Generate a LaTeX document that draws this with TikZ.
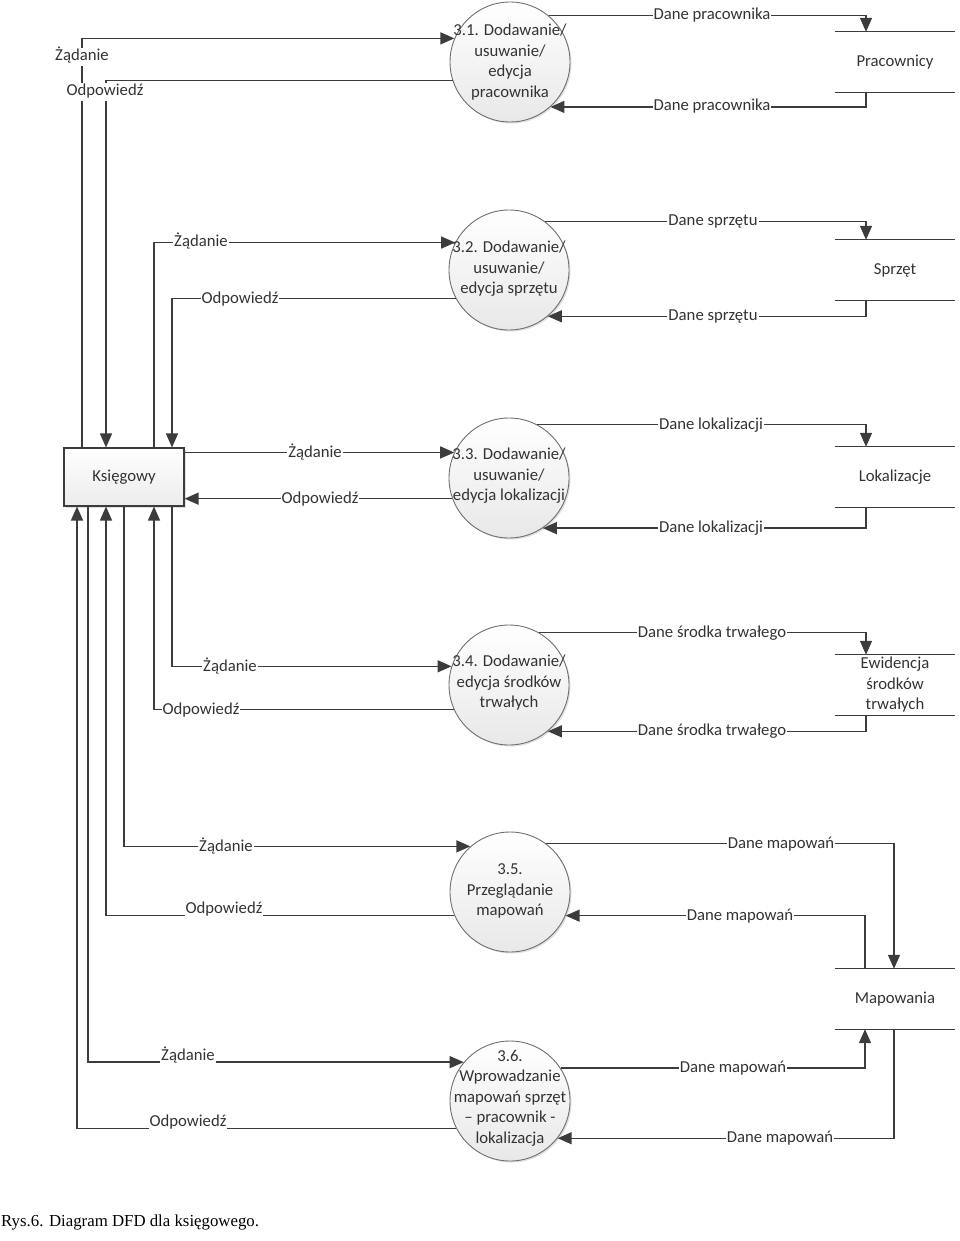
\documentclass[tikz,border=0pt]{standalone}
\usepackage{fontspec}
\setmainfont{Carlito}
\newfontfamily\capfont{Liberation Serif}
\usetikzlibrary{arrows.meta,shadows}
\definecolor{ln}{HTML}{3C3C3C}
\definecolor{tx}{HTML}{333333}
\definecolor{bd}{HTML}{707070}
\begin{document}
\begin{tikzpicture}[x=1pt,y=-1pt,
  every node/.style={text=tx},
  txt/.style={font=\fontsize{16.7}{20.5}\selectfont, align=center},
  flow/.style={draw=ln, line width=1.4pt, -{Triangle[length=14pt,width=12pt]}},
  lbl/.style={txt, fill=white, inner sep=1pt, text height=12pt, text depth=4pt},
  proc/.style={circle, minimum size=120pt, inner sep=0pt, draw=bd, line width=0.9pt,
    top color=white, bottom color=gray!18,
    drop shadow={opacity=0.25, shadow xshift=1.5pt, shadow yshift=-1.5pt}},
  ent/.style={rectangle, minimum width=120pt, minimum height=58pt, inner sep=0pt, draw=ln, line width=1.1pt,
    top color=white, bottom color=gray!15,
    drop shadow={opacity=0.25, shadow xshift=1.5pt, shadow yshift=-1.5pt}},
  store/.style={rectangle, minimum width=120pt, minimum height=60pt, inner sep=0pt},
  sline/.style={draw=ln, line width=1.1pt}
]
\useasboundingbox (0,0) rectangle (960,1241);

% external entity
\node[ent, txt] (k) at (124,477) {Księgowy};

% processes
\node[proc] (c31) at (510,62) {};
\node[proc] (c32) at (509,270) {};
\node[proc] (c33) at (509,478) {};
\node[proc] (c34) at (509,685) {};
\node[proc] (c35) at (510,892) {};
\node[proc] (c36) at (510,1101) {};
\node[txt] (t31) at (510,62) {3.1. Dodawanie/\\usuwanie/\\edycja\\pracownika};
\node[txt] (t32) at (509,269) {3.2. Dodawanie/\\usuwanie/\\edycja sprzętu};
\node[txt] (t33) at (509,476) {3.3. Dodawanie/\\usuwanie/\\edycja lokalizacji};
\node[txt] (t34) at (509,683) {3.4. Dodawanie/\\edycja środków\\trwałych};
\node[txt] (t35) at (510,891) {3.5.\\Przeglądanie\\mapowań};
\node[txt] (t36) at (510,1098) {3.6.\\Wprowadzanie\\mapowań sprzęt\\– pracownik -\\lokalizacja};

% data stores
\node[store, txt] (s1) at (895,62) {Pracownicy};
\node[store, txt] (s2) at (895,270) {Sprzęt};
\node[store, txt] (s3) at (895,477) {Lokalizacje};
\node[store, txt] (s4) at (895,685) {Ewidencja\\środków\\trwałych};
\node[store, txt] (s5) at (895,999) {Mapowania};
\foreach \s in {s1,s2,s3,s4,s5}{
  \draw[sline] (\s.north west) -- (\s.north east) (\s.south west) -- (\s.south east);
}

% x positions of vertical runs
\coordinate (x77) at (77,0);
\coordinate (x82) at (82,0);
\coordinate (x88) at (88,0);
\coordinate (x106) at (106,0);
\coordinate (x124) at (124,0);
\coordinate (x154) at (154,0);
\coordinate (x172) at (172,0);
\coordinate (x865) at (865,0);
\coordinate (x866) at (866,0);
\coordinate (x894) at (894,0);

% Ksiegowy <-> processes
\draw[flow] (k.north -| x82) |- (c31.157.5);
\draw[flow] (c31.198.5) -| (k.north -| x106);
\draw[flow] (k.north -| x154) |- (c32.153.3);
\draw[flow] (c32.208.9) -| (k.north -| x172);
\draw[flow] (k.east |- c33.155.4) -- (c33.155.4);
\draw[flow] (c33.200.5) -- (k.east |- c33.200.5);
\draw[flow] (k.south -| x172) |- (c34.162.5);
\draw[flow] (c34.204.6) -| (k.south -| x154);
\draw[flow] (k.south -| x124) |- (c35.131.4);
\draw[flow] (c35.203.6) -| (k.south -| x106);
\draw[flow] (k.south -| x88) |- (c36.140.7);
\draw[flow] (c36.207.8) -| (k.south -| x77);

% processes <-> stores
\draw[flow] (c31.50) -| (s1.north -| x866);
\draw[flow] (s1.south -| x866) |- (c31.-48.6);
\draw[flow] (c32.53.1) -| (s2.north -| x866);
\draw[flow] (s2.south -| x866) |- (c32.-50.1);
\draw[flow] (c33.62) -| (s3.north -| x866);
\draw[flow] (s3.south -| x866) |- (c33.-56.4);
\draw[flow] (c34.60.1) -| (s4.north -| x866);
\draw[flow] (s4.south -| x866) |- (c34.-50.1);
\draw[flow] (c35.53.1) -| (s5.north -| x894);
\draw[flow] (s5.north -| x865) |- (c35.-23.6);
\draw[flow] (c36.33.4) -| (s5.south -| x865);
\draw[flow] (s5.south -| x894) |- (c36.-38.1);

% labels (left)
\node[lbl] (l1) at (82,57) {Żądanie};
\node[lbl] (l2) at (105,92) {Odpowiedź};
\node[lbl] (l3) at (201,243) {Żądanie};
\node[lbl] (l4) at (240,299) {Odpowiedź};
\node[lbl] (l5) at (315,453) {Żądanie};
\node[lbl] (l6) at (320,499) {Odpowiedź};
\node[lbl] (l7) at (230,667) {Żądanie};
\node[lbl] (l8) at (201,710) {Odpowiedź};
\node[lbl] (l9) at (226,847) {Żądanie};
\node[lbl, anchor=base] (l10) at (224,913) {Odpowiedź};
\node[lbl, anchor=base] (l11) at (188,1060) {Żądanie};
\node[lbl, anchor=base] (l12) at (188,1126) {Odpowiedź};

% labels (right)
\node[lbl] (r1) at (712,16) {Dane pracownika};
\node[lbl] (r2) at (712,107) {Dane pracownika};
\node[lbl] (r3) at (713,222) {Dane sprzętu};
\node[lbl] (r4) at (713,316) {Dane sprzętu};
\node[lbl] (r5) at (711,425) {Dane lokalizacji};
\node[lbl] (r6) at (711,528) {Dane lokalizacji};
\node[lbl] (r7) at (712,633) {Dane środka trwałego};
\node[lbl] (r8) at (712,731) {Dane środka trwałego};
\node[lbl] (r9) at (781,844) {Dane mapowań};
\node[lbl] (r10) at (740,916) {Dane mapowań};
\node[lbl] (r11) at (733,1068) {Dane mapowań};
\node[lbl] (r12) at (780,1138) {Dane mapowań};

% caption
\node[anchor=base west, inner sep=0pt, text=black, font=\capfont\fontsize{16.8}{20}\selectfont] (cap) at (1,1226) {Rys.6. Diagram DFD dla księgowego.};
\end{tikzpicture}
\end{document}
